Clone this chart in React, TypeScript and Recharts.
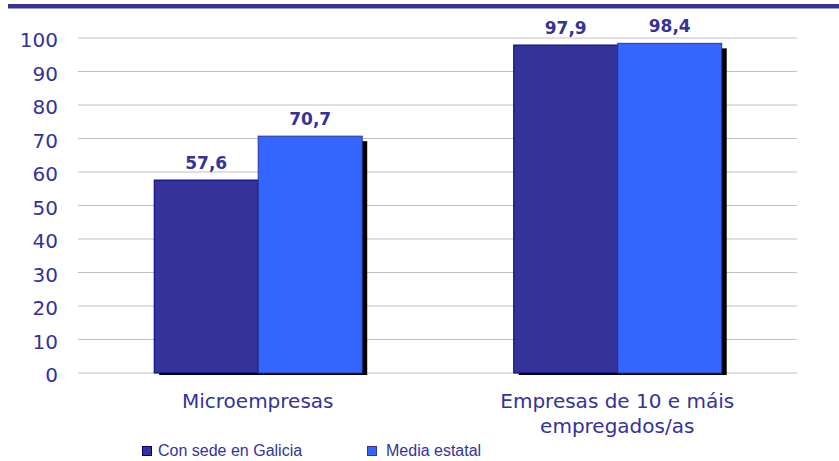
import React from 'react';
import { BarChart, Bar, XAxis, YAxis, CartesianGrid, Legend, LabelList } from 'recharts';

const categories = ['Microempresas', 'Empresas de 10 e máis\nempregados/as'];
const galiciaValues = [57.6, 97.9];
const estatalValues = [70.7, 98.4];
const yTicks = [0, 10, 20, 30, 40, 50, 60, 70, 80, 90, 100];
const seriesNames = ['Con sede en Galicia', 'Media estatal'];

const colors = {
  text: '#333399',
  dark: '#333399',
  darkBorder: '#000080',
  light: '#3366FF',
  lightBorder: '#333399',
  grid: '#C0C0C0',
};

const data = categories.map((name, i) => ({
  name,
  galicia: galiciaValues[i],
  estatal: estatalValues[i],
}));

const fmt = (v: any) => Number(v).toFixed(1).replace('.', ',');

// barra con sombra negra desprazada
const ShadowBar = (props: any) => {
  const { x, y, width, height, fill, stroke } = props;
  if (!width || !height) return null;
  return (
    <g>
      <rect x={x + 5} y={y + 5} width={width} height={Math.max(height - 3, 0)} fill="#000" />
      <rect x={x} y={y} width={width} height={height} fill={fill} stroke={stroke} strokeWidth={1} />
    </g>
  );
};

const CategoryTick = (props: any) => {
  const { x, y, payload } = props;
  const lines = String(payload.value).split('\n');
  return (
    <text x={x} y={y} textAnchor="middle" fill={colors.text} fontSize={20} fontFamily="DejaVu Sans">
      {lines.map((l, i) => (
        <tspan key={i} x={x} dy={i === 0 ? 15 : 25}>{l}</tspan>
      ))}
    </text>
  );
};

const LegendContent = () => {
  const items = [
    { name: seriesNames[0], fill: colors.dark, stroke: colors.darkBorder, left: 142, textLeft: 158 },
    { name: seriesNames[1], fill: colors.light, stroke: colors.lightBorder, left: 367, textLeft: 386 },
  ];
  return (
    <div style={{ position: 'relative', width: 839, height: 18 }}>
      {items.map((it) => (
        <React.Fragment key={it.name}>
          <div
            style={{
              position: 'absolute', left: it.left, top: 3, width: 8, height: 8,
              background: it.fill, border: `1px solid ${it.stroke}`,
            }}
          />
          <div
            style={{
              position: 'absolute', left: it.textLeft, top: -1, fontSize: 16, lineHeight: '18px',
              fontFamily: 'Liberation Sans', color: colors.text, whiteSpace: 'nowrap',
            }}
          >
            {it.name}
          </div>
        </React.Fragment>
      ))}
    </div>
  );
};

export default function App() {
  return (
    <div style={{ position: 'absolute', left: 0, top: 0, width: 839, height: 461, background: '#fff' }}>
      <div style={{ position: 'absolute', left: 8, top: 4, width: 831, height: 4, background: '#333399', borderBottom: '1px solid #9999CC' }} />
      <BarChart
        width={839}
        height={461}
        data={data}
        margin={{ top: 38, right: 42, left: 0, bottom: 0 }}
        barCategoryGap="21.2%"
        barGap={0}
      >
        <CartesianGrid vertical={false} stroke={colors.grid} strokeWidth={1} />
        <XAxis
          dataKey="name"
          axisLine={false}
          tickLine={false}
          tickSize={0}
          tickMargin={20}
          height={70}
          interval={0}
          tick={<CategoryTick />}
        />
        <YAxis
          domain={[0, 100]}
          ticks={yTicks}
          interval={0}
          axisLine={false}
          tickLine={false}
          tickSize={0}
          tickMargin={20}
          width={78}
          tick={{ fill: colors.text, fontSize: 20, fontFamily: 'DejaVu Sans', dy: 2 }}
        />
        <Legend verticalAlign="bottom" align="left" height={18} content={<LegendContent />} wrapperStyle={{ left: 0, width: 839 }} />
        <Bar dataKey="galicia" name={seriesNames[0]} fill={colors.dark} stroke={colors.darkBorder} shape={<ShadowBar />} isAnimationActive={false}>
          <LabelList dataKey="galicia" position="top" offset={11} formatter={fmt} fill={colors.text} fontSize={17} fontWeight="bold" fontFamily="DejaVu Sans" />
        </Bar>
        <Bar dataKey="estatal" name={seriesNames[1]} fill={colors.light} stroke={colors.lightBorder} shape={<ShadowBar />} isAnimationActive={false}>
          <LabelList dataKey="estatal" position="top" offset={11} formatter={fmt} fill={colors.text} fontSize={17} fontWeight="bold" fontFamily="DejaVu Sans" />
        </Bar>
      </BarChart>
    </div>
  );
}
